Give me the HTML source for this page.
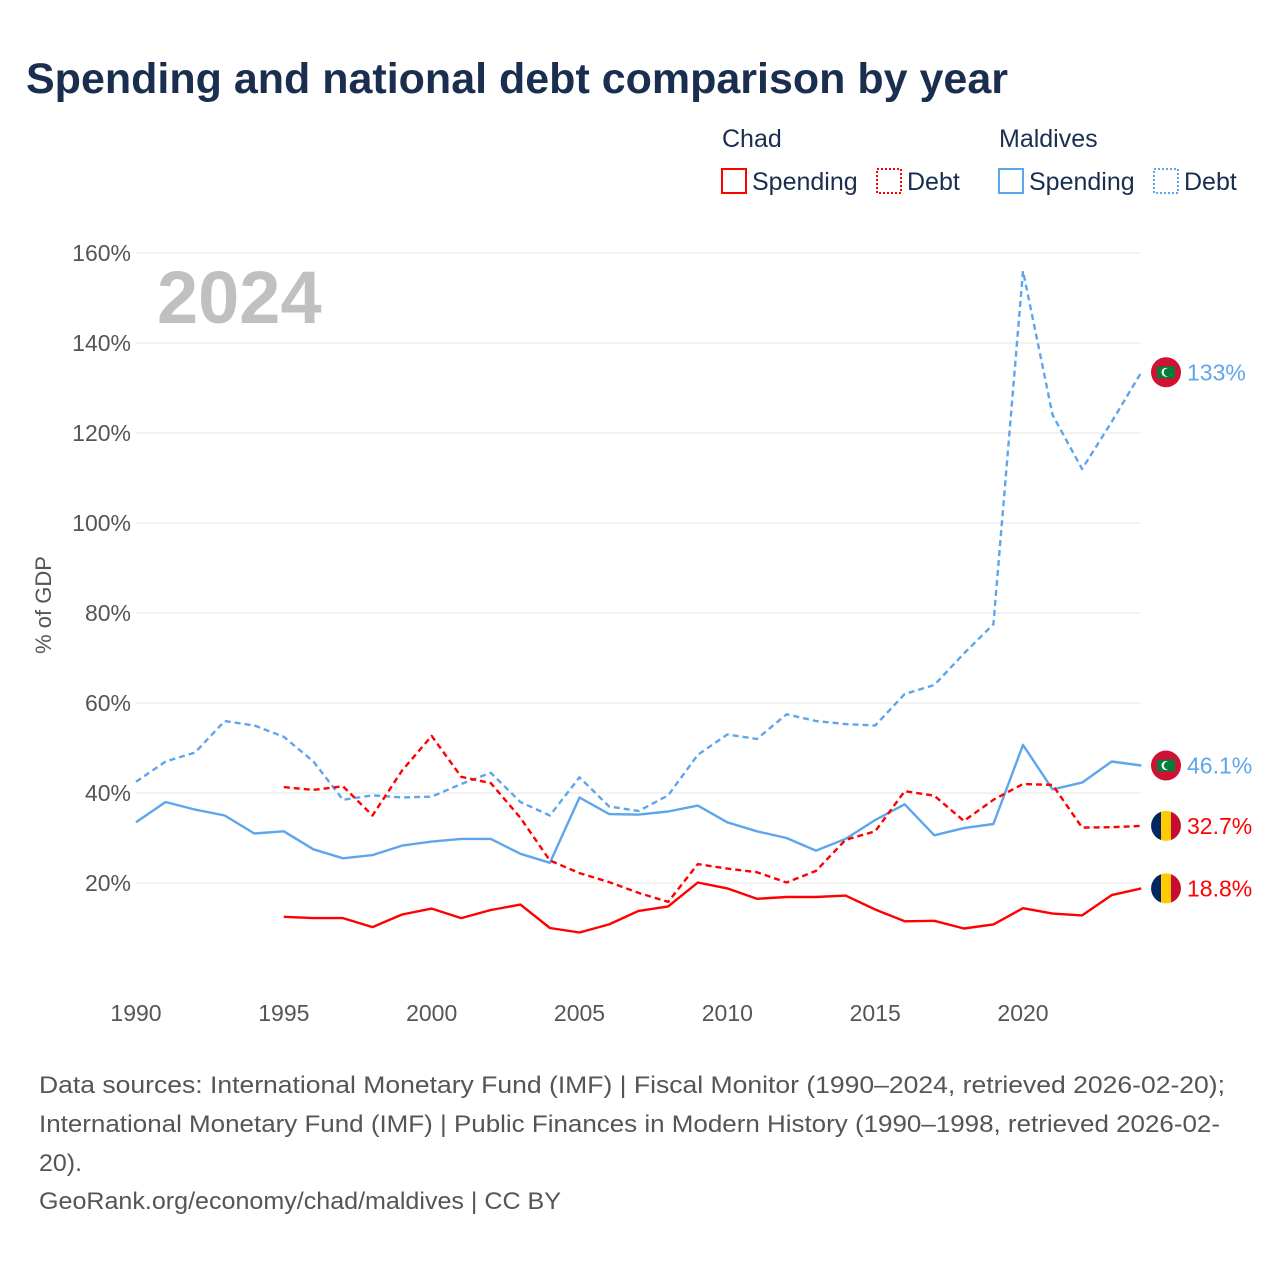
<!DOCTYPE html>
<html><head><meta charset="utf-8"><style>
body{margin:0;background:#fff;}
svg text{font-family:"Liberation Sans",sans-serif;}
</style></head><body>
<svg width="1280" height="1280" viewBox="0 0 1280 1280" xmlns="http://www.w3.org/2000/svg">
<text x="26" y="93" font-size="43" font-weight="bold" fill="#1a2e4f">Spending and national debt comparison by year</text>
<g font-size="25" fill="#1a2e4f">
<text x="722" y="147">Chad</text>
<text x="999" y="147">Maldives</text>
<rect x="722" y="169" width="24" height="24" fill="none" stroke="#f00" stroke-width="2"/>
<text x="752" y="190">Spending</text>
<rect x="877" y="169" width="24" height="24" fill="none" stroke="#f00" stroke-width="2" stroke-dasharray="2,2"/>
<text x="907" y="190">Debt</text>
<rect x="999" y="169" width="24" height="24" fill="none" stroke="#5ea6ec" stroke-width="2"/>
<text x="1029" y="190">Spending</text>
<rect x="1154" y="169" width="24" height="24" fill="none" stroke="#5ea6ec" stroke-width="2" stroke-dasharray="2,2"/>
<text x="1184" y="190">Debt</text>
</g>
<g id="grid"></g>
<text x="157" y="323" font-size="74" font-weight="bold" fill="#c0c0c0">2024</text>
<text transform="translate(51,605) rotate(-90)" text-anchor="middle" font-size="22" fill="#555">% of GDP</text>
<g id="series"></g>
<g id="labels"></g>
<g font-size="24" fill="#555">
<text x="39" y="1093" textLength="1186" lengthAdjust="spacingAndGlyphs">Data sources: International Monetary Fund (IMF) | Fiscal Monitor (1990–2024, retrieved 2026-02-20);</text>
<text x="39" y="1132" textLength="1181" lengthAdjust="spacingAndGlyphs">International Monetary Fund (IMF) | Public Finances in Modern History (1990–1998, retrieved 2026-02-</text>
<text x="39" y="1171" textLength="43" lengthAdjust="spacingAndGlyphs">20).</text>
<text x="39" y="1209" textLength="522" lengthAdjust="spacingAndGlyphs">GeoRank.org/economy/chad/maldives | CC BY</text>
</g>
</svg>
<script>
const years=[];for(let y=1990;y<=2024;y++)years.push(y);
const yTicks=[20,40,60,80,100,120,140,160];
const xTicks=[1990,1995,2000,2005,2010,2015,2020];
const maldivesDebt=[42.5,47,49,56,55,52.5,47,38.5,39.5,39,39.2,42,44.5,38,35,43.5,37,36,39.5,48.5,53,52,57.5,56,55.3,55,62,64,71,77.5,156,124,112,122.5,133.5];
const maldivesSpending=[33.5,38,36.3,35,31,31.5,27.5,25.5,26.2,28.3,29.2,29.8,29.8,26.5,24.5,39,35.3,35.2,35.9,37.2,33.5,31.5,30,27.2,29.8,34,37.5,30.6,32.2,33.1,50.7,40.8,42.3,47,46.1];
const chadDebt=[null,null,null,null,null,41.3,40.7,41.5,35,45,52.7,43.6,42.2,34.5,25,22.2,20.2,17.8,15.8,24.2,23.2,22.4,20.1,22.7,29.6,31.5,40.4,39.4,33.8,38.5,42,41.8,32.3,32.4,32.7];
const chadSpending=[null,null,null,null,null,12.5,12.2,12.2,10.2,13,14.3,12.2,14,15.2,10,9,10.8,13.8,14.8,20.1,18.8,16.5,16.9,16.9,17.2,14.1,11.5,11.6,9.9,10.8,14.4,13.2,12.8,17.3,18.8];
const endLabels=["133%","46.1%","32.7%","18.8%"];
const NS="http://www.w3.org/2000/svg";
const X=y=>136+(y-1990)*(1023-136)/30;
const Y=v=>973-v*4.5;
function mk(t,a,p){const e=document.createElementNS(NS,t);for(const k in a)e.setAttribute(k,a[k]);p.appendChild(e);return e;}
const grid=document.getElementById('grid');
yTicks.forEach(v=>{
 const l=mk('line',{x1:136,x2:1141,y1:Y(v),y2:Y(v),stroke:'#e6e6e6','stroke-width':1},grid);
 
 
 const t=mk('text',{x:131,y:Y(v)+8,'text-anchor':'end','font-size':23,fill:'#555'},grid);
 t.textContent=v+'%';
 
 
});
xTicks.forEach(v=>{
 const t=mk('text',{x:X(v),y:1021,'text-anchor':'middle','font-size':23,fill:'#555'},grid);
 t.textContent=v;
 
 
});
const ser=document.getElementById('series');
function line(vals,color,dash,name){
 let d='';vals.forEach((v,i)=>{if(v==null)return;d+=(d?'L':'M')+X(years[i]).toFixed(1)+','+Y(v).toFixed(1);});
 const p=mk('path',{d:d,fill:'none',stroke:color,'stroke-width':2.4,'stroke-dasharray':dash,'stroke-linejoin':'round'},ser);
 
 
}
line(maldivesDebt,'#5ea6ec','6,4','line-maldives-debt');
line(maldivesSpending,'#5ea6ec','none','line-maldives-spending');
line(chadDebt,'#f00','6,4','line-chad-debt');
line(chadSpending,'#f00','none','line-chad-spending');
const lab=document.getElementById('labels');
const ends=[[maldivesDebt,'#5ea6ec','m'],[maldivesSpending,'#5ea6ec','m'],[chadDebt,'#f00','c'],[chadSpending,'#f00','c']];
ends.forEach((e,i)=>{
 const v=e[0][e[0].length-1],y=Y(v),cx=1166;
 const g=mk('g',{},lab);
 
 
 if(e[2]=='m'){
  mk('circle',{cx:cx,cy:y,r:15,fill:'#d21034'},g);
  mk('rect',{x:cx-9,y:y-6,width:18,height:12,fill:'#007e3a'},g);
  mk('circle',{cx:cx,cy:y,r:4.5,fill:'#fff'},g);
  mk('circle',{cx:cx+1.8,cy:y,r:4,fill:'#007e3a'},g);
 }else{
  mk('circle',{cx:cx,cy:y,r:15,fill:'#fecb00'},g);
  mk('path',{d:`M${cx-5},${y-14.1}A15,15 0 0 0 ${cx-5},${y+14.1}Z`,fill:'#002664'},g);
  mk('path',{d:`M${cx+5},${y-14.1}A15,15 0 0 1 ${cx+5},${y+14.1}Z`,fill:'#c60c30'},g);
 }
 const t=mk('text',{x:1187,y:y+8,'font-size':23,fill:e[1]},lab);
 t.textContent=endLabels[i];
 
 
});
</script>
</body></html>
